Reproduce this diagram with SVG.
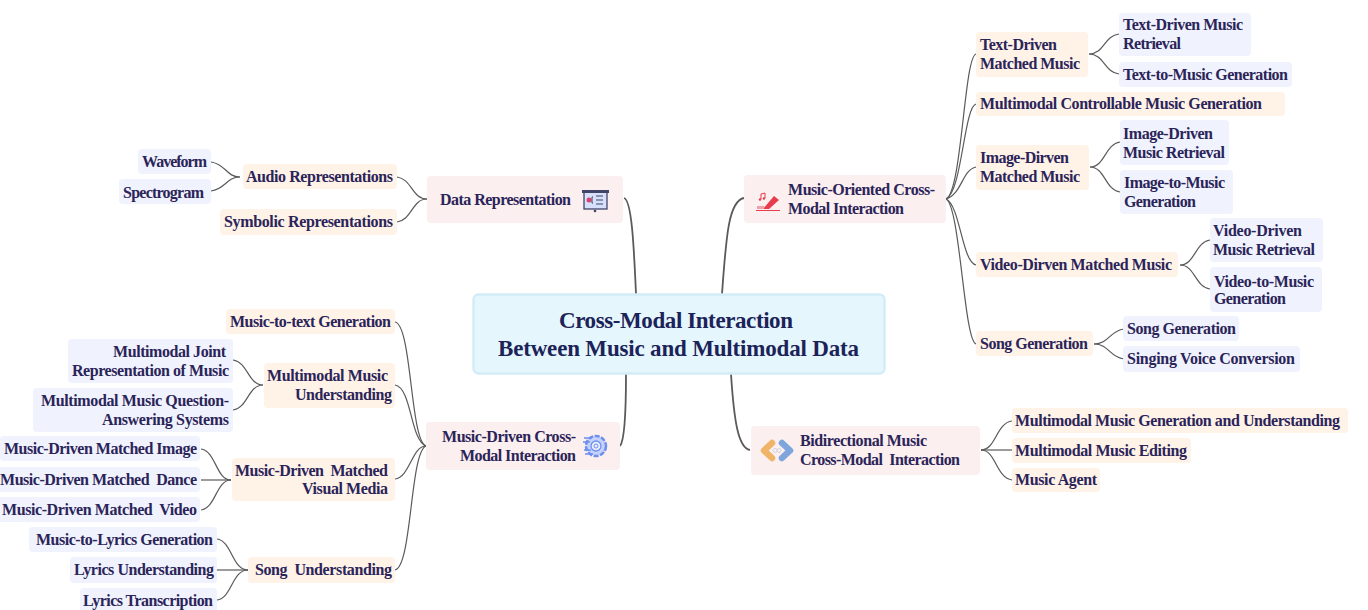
<svg xmlns="http://www.w3.org/2000/svg" width="1368" height="610" viewBox="0 0 1368 610">
<style>
text{font-family:"Liberation Serif","Noto Serif",serif;font-weight:700;font-size:16px;fill:#2b2459;white-space:pre}
.c{font-size:23px;fill:#1b2358}
.o{fill:#fff3e8}.b{fill:#f0f3fd}.p{fill:#fbefef}
.m{fill:#e5f6fd;stroke:#d3edf8;stroke-width:2.5}
#connectors path{fill:none;stroke:#5a5a5a;stroke-width:1.2}
#connectors path.t{stroke-width:1.8}
</style>
<rect width="1368" height="610" fill="#fff"/>
<g id="connectors">
<path class="t" d="M636 294C634 250 632 200 624 198"/>
<path class="t" d="M722 294C726 240 728 201 744 198"/>
<path class="t" d="M626 374C626 410 625 440 620 446"/>
<path class="t" d="M731 374C734 420 738 448 750 450"/>
<path d="M946 199C962 192 964 57 976 54"/>
<path d="M946 199C962 192 964 107 976 104"/>
<path d="M946 199C962 194 962 170 976 167"/>
<path d="M946 199C960 205 962 262 976 265"/>
<path d="M946 199C960 205 964 341 976 344"/>
<path d="M1089 54C1104 54 1104 36 1119 34"/>
<path d="M1089 54C1104 54 1104 72 1119 74"/>
<path d="M1090 167C1105 167 1105 144 1120 142"/>
<path d="M1090 167C1105 167 1105 190 1120 192"/>
<path d="M1180 265C1195 265 1195 242 1210 240"/>
<path d="M1180 265C1195 265 1195 287 1210 289"/>
<path d="M1094 344C1109 344 1109 331 1124 329"/>
<path d="M1094 344C1109 344 1109 357 1124 359"/>
<path d="M981 450C996 450 996 423 1012 421"/>
<path d="M981 450H1012"/>
<path d="M981 450C996 450 996 478 1012 480"/>
<path d="M427 199C412 199 412 179 397 177"/>
<path d="M427 199C412 199 412 220 397 222"/>
<path d="M240 177C226 177 226 164 211 162"/>
<path d="M240 177C226 177 226 189 211 191"/>
<path d="M426 446C410 440 412 325 395 322"/>
<path d="M426 446C410 440 412 388 395 385"/>
<path d="M426 446C412 446 410 477 395 479"/>
<path d="M426 446C410 452 412 567 395 570"/>
<path d="M263 385C248 385 248 362 233 360"/>
<path d="M263 385C248 385 248 408 233 410"/>
<path d="M231 480C216 480 216 451 201 449"/>
<path d="M231 480H201"/>
<path d="M231 480C216 480 216 508 201 510"/>
<path d="M248 570C232 570 232 541 217 539"/>
<path d="M248 570H217"/>
<path d="M248 570C232 570 232 598 217 600"/>
</g>
<g id="center"><rect class="m" x="473.500" y="294.500" width="411" height="79" rx="5"/>
<text class="c" x="559" y="328" textLength="234">Cross-Modal Interaction</text>
<text class="c" x="498" y="356" textLength="361">Between Music and Multimodal Data</text></g>

<g id="data-representation"><rect class="p" x="427" y="176" width="196" height="47" rx="4"/>
<text x="440" y="205" textLength="131">Data Representation</text>
<g id="icon-data"><rect x="584" y="192" width="23" height="17" fill="#d6e0fb" stroke="#3f4468" stroke-width="1.300"/><rect x="582" y="190" width="27" height="3" fill="#3f4468"/><circle cx="589" cy="200" r="2.500" fill="#d8436b"/><path d="M593 197h-1v6h1M596 196h7M596 200h7M596 204h7" fill="none" stroke="#3f4468"/><circle cx="595" cy="211" r="1.300" fill="#3f4468"/></g></g>

<g id="music-oriented"><rect class="p" x="744" y="175" width="202" height="48" rx="4"/>
<text x="788" y="195" textLength="147">Music-Oriented Cross-</text>
<text x="788" y="214" textLength="116">Modal Interaction</text>
<g id="icon-music"><path d="M763 209L774 196L779 200L769 209Z" fill="#e83b4e"/><path d="M756 210.500H780" stroke="#e83b4e"/><rect x="757" y="206" width="7" height="3" fill="#f0a0a8"/><path d="M761 194v5M765 193v5M761 194l4-1" stroke="#e83b4e" fill="none"/><circle cx="760" cy="199.500" r="1.200" fill="#e83b4e"/><circle cx="764" cy="198.500" r="1.200" fill="#e83b4e"/></g></g>

<g id="music-driven"><rect class="p" x="426" y="422" width="194" height="48" rx="4"/>
<text x="442" y="442" textLength="134">Music-Driven Cross-</text>
<text x="460" y="461" textLength="116">Modal Interaction</text>
<g id="icon-gear"><circle cx="596" cy="446" r="10" fill="#c5d3fa" stroke="#6e8ff0" stroke-width="2.500" stroke-dasharray="5 1.500"/><circle cx="596" cy="446" r="5" fill="#e8eefe" stroke="#6e8ff0" stroke-width="1.300"/><circle cx="596" cy="446" r="2" fill="none" stroke="#6e8ff0"/><path d="M584 438h8M583 442h7M584 450h7M585 454h8" stroke="#6e8ff0" stroke-width="1.300"/></g></g>

<g id="bidirectional"><rect class="p" x="751" y="426" width="229" height="49" rx="4"/>
<text x="800" y="446" textLength="127">Bidirectional Music</text>
<text x="800" y="465" textLength="160">Cross-Modal  Interaction</text>
<g id="icon-arrows"><path d="M772 443L764 450.500L772 458" fill="none" stroke="#f0b468" stroke-width="6.500" stroke-linejoin="round" stroke-linecap="round"/><path d="M782 443L790 450.500L782 458" fill="none" stroke="#7fa6dc" stroke-width="6.500" stroke-linejoin="round" stroke-linecap="round"/><circle cx="775" cy="450.500" r="2" fill="none" stroke="#c9cfd8" stroke-width=".8"/><circle cx="779" cy="450.500" r="2" fill="none" stroke="#c9cfd8" stroke-width=".8"/></g></g>

<g id="text-driven"><rect class="o" x="976" y="32" width="112" height="45" rx="4"/>
<text x="980" y="50" textLength="77">Text-Driven</text><text x="980" y="69" textLength="100">Matched Music</text></g>
<g id="text-retrieval"><rect class="b" x="1119" y="13" width="132" height="43" rx="4"/>
<text x="1123" y="30" textLength="120">Text-Driven Music</text><text x="1123" y="49" textLength="58">Retrieval</text></g>
<g id="text-to-music"><rect class="b" x="1119" y="62" width="173" height="25" rx="4"/>
<text x="1123" y="80" textLength="165">Text-to-Music Generation</text></g>
<g id="controllable"><rect class="o" x="976" y="92" width="309" height="24" rx="4"/>
<text x="980" y="109" textLength="282">Multimodal Controllable Music Generation</text></g>
<g id="image-matched"><rect class="o" x="976" y="145" width="113" height="45" rx="4"/>
<text x="980" y="163" textLength="89">Image-Dirven</text><text x="980" y="182" textLength="100">Matched Music</text></g>
<g id="image-retrieval"><rect class="b" x="1120" y="120" width="109" height="45" rx="4"/>
<text x="1123" y="139" textLength="90">Image-Driven</text><text x="1123" y="158" textLength="102">Music Retrieval</text></g>
<g id="image-to-music"><rect class="b" x="1120" y="170" width="113" height="44" rx="4"/>
<text x="1124" y="188" textLength="101">Image-to-Music</text><text x="1124" y="207" textLength="72">Generation</text></g>
<g id="video-matched"><rect class="o" x="976" y="252" width="202" height="25" rx="4"/>
<text x="980" y="270" textLength="192">Video-Dirven Matched Music</text></g>
<g id="video-retrieval"><rect class="b" x="1210" y="218" width="113" height="44" rx="4"/>
<text x="1213" y="236" textLength="89">Video-Driven</text><text x="1213" y="255" textLength="102">Music Retrieval</text></g>
<g id="video-to-music"><rect class="b" x="1210" y="267" width="112" height="45" rx="4"/>
<text x="1214" y="287" textLength="100">Video-to-Music</text><text x="1214" y="304" textLength="72">Generation</text></g>
<g id="song-generation"><rect class="o" x="976" y="331" width="117" height="25" rx="4"/>
<text x="980" y="349" textLength="108">Song Generation</text></g>
<g id="song-generation-2"><rect class="b" x="1123" y="316" width="116" height="25" rx="4"/>
<text x="1127" y="334" textLength="109">Song Generation</text></g>
<g id="singing"><rect class="b" x="1123" y="346" width="177" height="26" rx="4"/>
<text x="1127" y="364" textLength="168">Singing Voice Conversion</text></g>

<g id="gen-understanding"><rect class="o" x="1012" y="408" width="336" height="25" rx="4"/>
<text x="1015" y="426" textLength="325">Multimodal Music Generation and Understanding</text></g>
<g id="editing"><rect class="o" x="1012" y="438" width="179" height="25" rx="4"/>
<text x="1015" y="456" textLength="172">Multimodal Music Editing</text></g>
<g id="agent"><rect class="o" x="1012" y="468" width="88" height="24" rx="4"/>
<text x="1015" y="485" textLength="82">Music Agent</text></g>

<g id="waveform"><rect class="b" x="138" y="149" width="73" height="25" rx="4"/>
<text x="142" y="167" textLength="65">Waveform</text></g>
<g id="spectrogram"><rect class="b" x="119" y="179" width="92" height="25" rx="4"/>
<text x="123" y="198" textLength="81">Spectrogram</text></g>
<g id="audio"><rect class="o" x="243" y="164" width="154" height="25" rx="4"/>
<text x="246" y="182" textLength="147">Audio Representations</text></g>
<g id="symbolic"><rect class="o" x="220" y="209" width="177" height="26" rx="4"/>
<text x="224" y="227" textLength="169">Symbolic Representations</text></g>

<g id="music-to-text"><rect class="o" x="226" y="309" width="169" height="25" rx="4"/>
<text x="230" y="327" textLength="161">Music-to-text Generation</text></g>
<g id="mm-understanding"><rect class="o" x="264" y="363" width="131" height="45" rx="4"/>
<text x="267" y="381" textLength="121">Multimodal Music</text><text x="295" y="400" textLength="97">Understanding</text></g>
<g id="joint"><rect class="b" x="68" y="339" width="165" height="44" rx="4"/>
<text x="113" y="357" textLength="113">Multimodal Joint</text><text x="72" y="376" textLength="157">Representation of Music</text></g>
<g id="qa"><rect class="b" x="33" y="388" width="200" height="44" rx="4"/>
<text x="41" y="406" textLength="188">Multimodal Music Question-</text><text x="102" y="425" textLength="127">Answering Systems</text></g>
<g id="matched-image"><rect class="b" x="0" y="436" width="200" height="25" rx="4"/>
<text x="4" y="454" textLength="193">Music-Driven Matched Image</text></g>
<g id="matched-dance"><rect class="b" x="-4" y="467" width="204" height="25" rx="4"/>
<text x="0" y="485" textLength="197">Music-Driven Matched  Dance</text></g>
<g id="matched-video"><rect class="b" x="-2" y="497" width="202" height="25" rx="4"/>
<text x="2" y="515" textLength="195">Music-Driven Matched  Video</text></g>
<g id="visual-media"><rect class="o" x="232" y="458" width="163" height="43" rx="4"/>
<text x="235" y="476" textLength="153">Music-Driven  Matched</text><text x="302" y="494" textLength="86">Visual Media</text></g>
<g id="to-lyrics"><rect class="b" x="29" y="527" width="188" height="25" rx="4"/>
<text x="36" y="545" textLength="177">Music-to-Lyrics Generation</text></g>
<g id="lyrics-understanding"><rect class="b" x="70" y="557" width="147" height="26" rx="4"/>
<text x="74" y="575" textLength="140">Lyrics Understanding</text></g>
<g id="lyrics-transcription"><rect class="b" x="80" y="588" width="137" height="26" rx="4"/>
<text x="83" y="606" textLength="130">Lyrics Transcription</text></g>
<g id="song-understanding"><rect class="o" x="248" y="557" width="147" height="26" rx="4"/>
<text x="255" y="575" textLength="137">Song  Understanding</text></g>
</svg>
